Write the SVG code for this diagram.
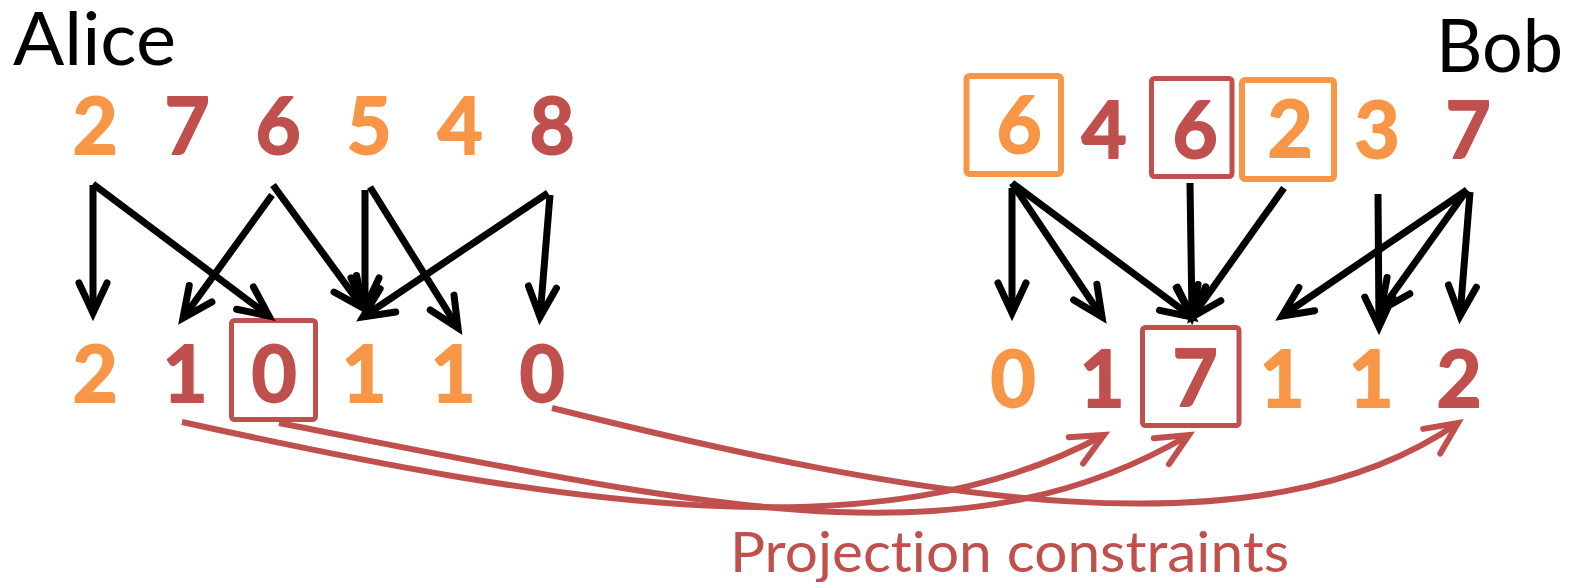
<svg xmlns="http://www.w3.org/2000/svg" width="1577" height="582" viewBox="0 0 1577 582">
<style>
.lbl{font-family:Lato,"Liberation Sans",sans-serif;font-size:73px;fill:#000}
.d{font-family:Lato,"Liberation Sans",sans-serif;font-weight:bold;font-size:78px;text-anchor:middle;stroke-width:1.8;stroke-linejoin:round}
.o{fill:#F79646;stroke:#F79646}
.r{fill:#C0504D;stroke:#C0504D}
.bo{fill:none;stroke:#F79646;stroke-width:6}
.br{fill:none;stroke:#C0504D;stroke-width:5}
.ar{fill:none;stroke:#000;stroke-width:7;marker-end:url(#ah)}
.cv{fill:none;stroke:#C0504D;stroke-width:6;marker-end:url(#ahr)}
.cap{font-family:Lato,"Liberation Sans",sans-serif;font-size:56px;fill:#C0504D;font-variant-ligatures:none}
</style>
<defs>
<marker id="ah" markerUnits="userSpaceOnUse" orient="auto" overflow="visible" markerWidth="1" markerHeight="1">
<path d="M-30,-14 L0,0 L-30,14" fill="none" stroke="#000" stroke-width="7" stroke-linecap="round"/>
</marker>
<marker id="ahr" markerUnits="userSpaceOnUse" orient="auto" overflow="visible" markerWidth="1" markerHeight="1">
<path d="M-32,-15 L0,0 L-32,15" fill="none" stroke="#C0504D" stroke-width="6" stroke-linecap="round"/>
</marker>
</defs>
<rect width="1577" height="582" fill="#fff"/>
<g id="label-alice"><text class="lbl" x="13" y="65" textLength="163" lengthAdjust="spacingAndGlyphs">Alice</text></g>
<g id="label-bob"><text class="lbl" x="1436" y="72" textLength="127" lengthAdjust="spacingAndGlyphs">Bob</text></g>

<g id="alice-top">
<g id="a-t0"><text class="d o" x="95" y="154">2</text></g>
<g id="a-t1"><text class="d r" x="187" y="154">7</text></g>
<g id="a-t2"><text class="d r" x="278" y="154">6</text></g>
<g id="a-t3"><text class="d o" x="369" y="154">5</text></g>
<g id="a-t4"><text class="d o" x="460" y="154">4</text></g>
<g id="a-t5"><text class="d r" x="552" y="154">8</text></g>
</g>
<g id="alice-bottom">
<g id="a-b0"><text class="d o" x="95" y="402">2</text></g>
<g id="a-b1"><text class="d r" x="185" y="402">1</text></g>
<g id="a-b2"><rect class="br" x="231.5" y="320.5" width="84" height="99" rx="3"/><text class="d r" x="274" y="402">0</text></g>
<g id="a-b3"><text class="d o" x="364" y="402">1</text></g>
<g id="a-b4"><text class="d o" x="453" y="402">1</text></g>
<g id="a-b5"><text class="d r" x="542" y="402">0</text></g>
</g>
<g id="bob-top">
<g id="b-t0"><rect class="bo" x="966.5" y="76" width="94.5" height="98" rx="3"/><text class="d o" x="1019" y="153">6</text></g>
<g id="b-t1"><text class="d r" x="1104" y="158">4</text></g>
<g id="b-t2"><rect class="br" x="1151.5" y="78.5" width="80.5" height="98" rx="3"/><text class="d r" x="1195" y="158">6</text></g>
<g id="b-t3"><rect class="bo" x="1242" y="80" width="92" height="99" rx="3"/><text class="d o" x="1290" y="157">2</text></g>
<g id="b-t4"><text class="d o" x="1377" y="158">3</text></g>
<g id="b-t5"><text class="d r" x="1468" y="158">7</text></g>
</g>
<g id="bob-bottom">
<g id="b-b0"><text class="d o" x="1013" y="407">0</text></g>
<g id="b-b1"><text class="d r" x="1102" y="407">1</text></g>
<g id="b-b2"><rect class="br" x="1142.5" y="327.5" width="96.5" height="98" rx="3"/><text class="d r" x="1195" y="406">7</text></g>
<g id="b-b3"><text class="d o" x="1282" y="407">1</text></g>
<g id="b-b4"><text class="d o" x="1371" y="407">1</text></g>
<g id="b-b5"><text class="d r" x="1459" y="407">2</text></g>
</g>

<g id="connectors">
<line class="ar" x1="93" y1="185" x2="93" y2="313"/>
<line class="ar" x1="93" y1="184" x2="269" y2="316"/>
<line class="ar" x1="272" y1="195" x2="183" y2="318"/>
<line class="ar" x1="273" y1="185" x2="363" y2="308"/>
<line class="ar" x1="365" y1="190" x2="365" y2="308"/>
<line class="ar" x1="370" y1="187" x2="458" y2="328"/>
<line class="ar" x1="548" y1="193" x2="363" y2="317"/>
<line class="ar" x1="550" y1="195" x2="540" y2="317"/>

<line class="ar" x1="1012" y1="188" x2="1012" y2="313"/>
<line class="ar" x1="1012" y1="183" x2="1102" y2="317"/>
<line class="ar" x1="1012" y1="183" x2="1192" y2="317"/>
<line class="ar" x1="1190" y1="183" x2="1192" y2="317"/>
<line class="ar" x1="1284" y1="188" x2="1192" y2="317"/>
<line class="ar" x1="1378" y1="194" x2="1379" y2="327"/>
<line class="ar" x1="1467" y1="190" x2="1282" y2="316"/>
<line class="ar" x1="1467" y1="190" x2="1381" y2="310"/>
<line class="ar" x1="1470" y1="192" x2="1460" y2="316"/>

<path class="cv" d="M182,422 C560,505 880,557 1104,435"/>
<path class="cv" d="M279,423 C700,505 960,570 1189,435"/>
<path class="cv" d="M552,408 C920,500 1260,560 1458,423"/>
</g>
<g id="caption"><text class="cap" x="730" y="572" textLength="559" lengthAdjust="spacingAndGlyphs">Projection constraints</text></g>
</svg>
